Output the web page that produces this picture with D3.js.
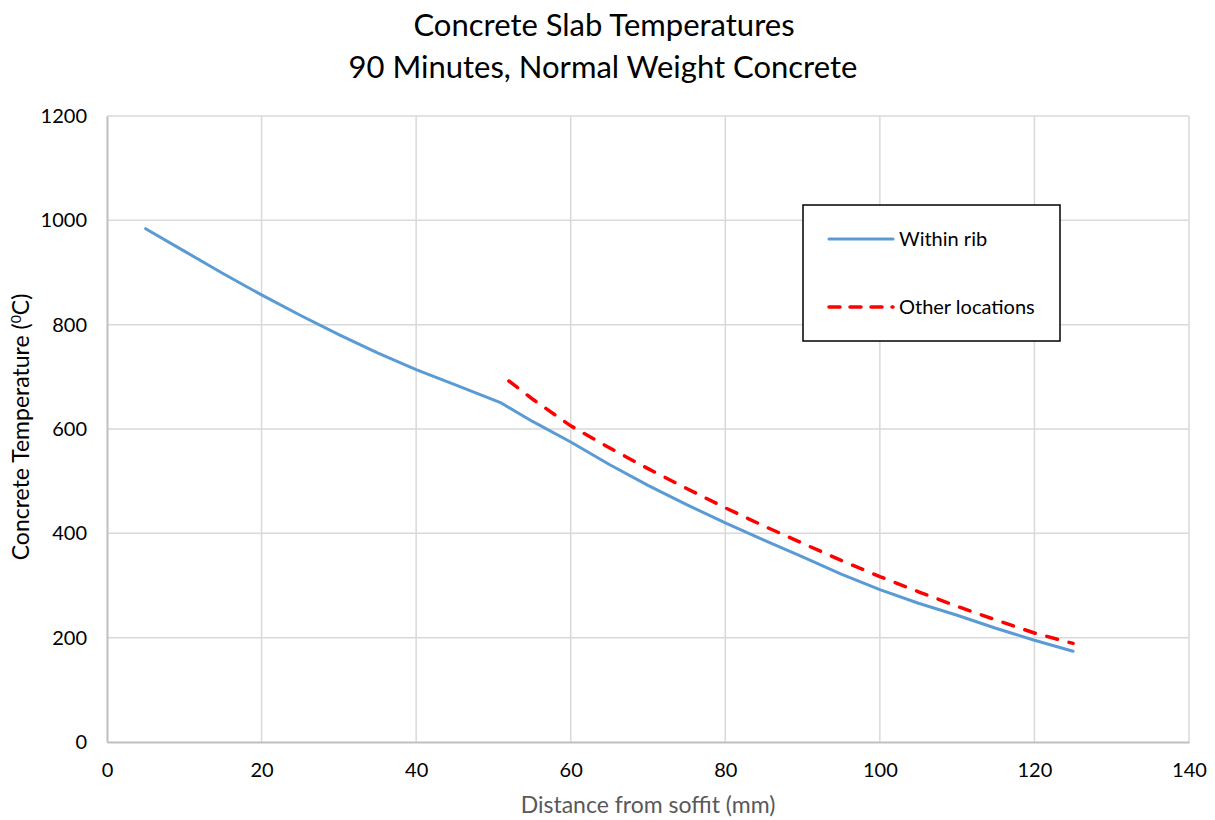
<!DOCTYPE html>
<html>
<head>
<meta charset="utf-8">
<script src="https://cdn.jsdelivr.net/npm/d3@7"></script>
<style>
  body { margin: 0; background: #fff; }
  svg { font-family: Lato, "Open Sans", sans-serif; }
</style>
</head>
<body>
<svg id="chart" width="1215" height="820"></svg>
<script>
// Distance from soffit (mm) and temperature (°C)
const ribDistance = [5, 10, 15, 20, 25, 30, 35, 40, 45, 51, 55, 60, 65, 70, 75, 80, 85, 90, 95, 100, 105, 110, 115, 120, 125];
const ribTemp = [984, 941, 898, 857, 818, 781, 746, 714, 685, 650, 615, 575, 532, 492, 455, 420, 387, 355, 322, 292, 266, 243, 218, 195, 174];

const otherDistance = [52, 55, 60, 65, 70, 75, 80, 85, 90, 95, 100, 105, 110, 115, 120, 125];
const otherTemp = [692, 658, 606, 564, 524, 486, 449, 414, 381, 348, 317, 288, 260, 234, 209, 189];

const xTicks = [0, 20, 40, 60, 80, 100, 120, 140];
const yTicks = [0, 200, 400, 600, 800, 1000, 1200];

const seriesNames = ["Within rib", "Other locations"];

const margin = { top: 116, right: 26, bottom: 78, left: 107 };
const width = 1215, height = 820;
const innerW = width - margin.left - margin.right;
const innerH = height - margin.top - margin.bottom;

const svg = d3.select("#chart");
const g = svg.append("g").attr("transform", `translate(${margin.left},${margin.top})`);

const x = d3.scaleLinear().domain([0, 140]).range([0, innerW]);
const y = d3.scaleLinear().domain([0, 1200]).range([innerH, 0]);

// gridlines
g.append("g")
    .selectAll("line")
    .data(xTicks.slice(1))
    .enter()
    .append("line")
    .attr("x1", d => x(d)).attr("x2", d => x(d))
    .attr("y1", 0).attr("y2", innerH)
    .attr("stroke", "#d9d9d9")
    .attr("stroke-width", 1.5);

g.append("g")
    .selectAll("line")
    .data(yTicks.slice(1))
    .enter()
    .append("line")
    .attr("x1", 0).attr("x2", innerW)
    .attr("y1", d => y(d)).attr("y2", d => y(d))
    .attr("stroke", "#d9d9d9")
    .attr("stroke-width", 1.5);

// axes
const xAxis = g.append("g")
    .attr("transform", `translate(0,${innerH})`)
    .call(d3.axisBottom(x).tickValues(xTicks).tickFormat(d3.format("d")).tickSize(0).tickPadding(21));
const yAxis = g.append("g")
    .call(d3.axisLeft(y).tickValues(yTicks).tickFormat(d3.format("d")).tickSize(0).tickPadding(20));

[xAxis, yAxis].forEach(a => {
    a.select(".domain").attr("stroke", "#bfbfbf").attr("stroke-width", 2);
    a.selectAll("text")
        .attr("fill", "#000")
        .style("font-size", "20px")
        .style("font-family", "Lato, 'Open Sans', sans-serif");
});

// lines
const ribPoints = ribDistance.map((d, i) => ({ x: d, y: ribTemp[i] }));
const otherPoints = otherDistance.map((d, i) => ({ x: d, y: otherTemp[i] }));

const line = d3.line()
    .x(d => x(d.x))
    .y(d => y(d.y));

g.append("path")
    .datum(ribPoints)
    .attr("fill", "none")
    .attr("stroke", "#5b9bd5")
    .attr("stroke-width", 3)
    .attr("stroke-linejoin", "round")
    .attr("stroke-linecap", "round")
    .attr("d", line);

g.append("path")
    .datum(otherPoints)
    .attr("fill", "none")
    .attr("stroke", "#ff0000")
    .attr("stroke-width", 3.5)
    .attr("stroke-dasharray", "11,12")
    .attr("stroke-linecap", "round")
    .attr("d", line);

// titles
svg.append("text")
    .attr("x", 604).attr("y", 36)
    .attr("text-anchor", "middle")
    .style("font-size", "31px")
    .text("Concrete Slab Temperatures");
svg.append("text")
    .attr("x", 603).attr("y", 78)
    .attr("text-anchor", "middle")
    .style("font-size", "31px")
    .text("90 Minutes, Normal Weight Concrete");

svg.append("text")
    .attr("x", margin.left + innerW / 2).attr("y", 813)
    .attr("text-anchor", "middle")
    .attr("fill", "#595959")
    .style("font-size", "23px")
    .text("Distance from soffit (mm)");

const yTitle = svg.append("text")
    .attr("transform", `translate(29,${margin.top + innerH / 2 - 2}) rotate(-90)`)
    .attr("text-anchor", "middle")
    .style("font-size", "23px");
yTitle.append("tspan").text("Concrete Temperature (");
yTitle.append("tspan").attr("dy", -8).style("font-size", "14px").text("0");
yTitle.append("tspan").attr("dy", 8).text("C)");

// legend
const legend = svg.append("g").attr("transform", "translate(803,205)");
legend.append("rect")
    .attr("width", 257).attr("height", 136)
    .attr("fill", "#fff")
    .attr("stroke", "#000")
    .attr("stroke-width", 1.5);

const legendStyles = [
    { color: "#5b9bd5", dash: null, w: 3 },
    { color: "#ff0000", dash: "11,10", w: 3.5 }
];
seriesNames.forEach((name, i) => {
    const ly = 34 + i * 68;
    legend.append("line")
        .attr("x1", 26).attr("x2", 90)
        .attr("y1", ly).attr("y2", ly)
        .attr("stroke", legendStyles[i].color)
        .attr("stroke-width", legendStyles[i].w)
        .attr("stroke-dasharray", legendStyles[i].dash)
        .attr("stroke-linecap", "round");
    legend.append("text")
        .attr("x", 96).attr("y", ly + 7)
        .style("font-size", "20px")
        .text(name);
});
</script>
</body>
</html>
